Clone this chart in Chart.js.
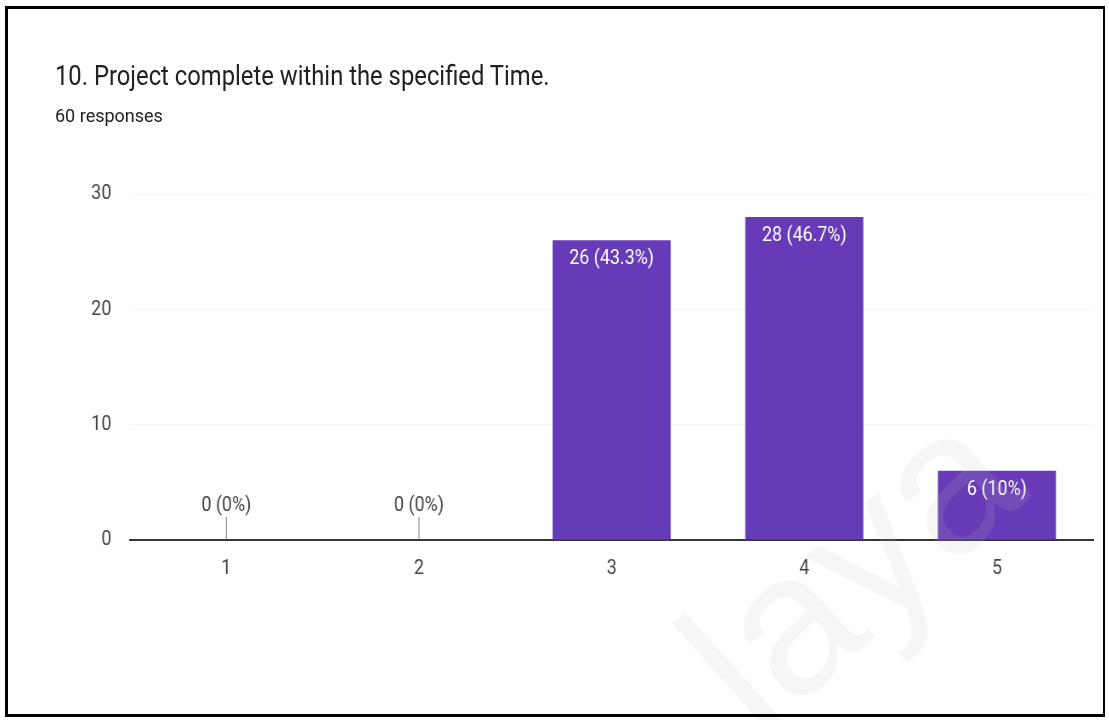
<!DOCTYPE html>
<html>
<head>
<meta charset="utf-8">
<script src="https://cdn.jsdelivr.net/npm/chart.js@4.4.1/dist/chart.umd.min.js"></script>
<style>
  html, body { margin: 0; padding: 0; background: #fff; }
  body { width: 1109px; height: 720px; position: relative; overflow: hidden; }
  #frame {
    position: absolute; left: 5px; top: 6px; width: 1100px; height: 711px;
    border-left: 3px solid #000; border-top: 3px solid #000;
    border-right: 2px solid #000; border-bottom: 3px solid #000;
    box-sizing: border-box; pointer-events: none; z-index: 5;
  }
  #squeeze {
    position: absolute; left: 0; top: 0; height: 720px;
    transform-origin: 0 0;
  }
  #title {
    position: absolute; left: 0; top: 59px;
    font-family: Roboto, sans-serif; font-size: 28px; color: #202124;
    white-space: nowrap;
  }
  #subtitle {
    position: absolute; left: 55px; top: 105px;
    font-family: Roboto, sans-serif; font-size: 18px; color: #202124;
    white-space: nowrap;
  }
  #chart { position: absolute; left: 0; top: 0; }
  #mark {
    position: absolute; left: 790px; top: 545px;
    font-family: "Liberation Sans", sans-serif; font-size: 200px;
    color: rgba(190, 190, 190, 0.14); white-space: nowrap;
    transform: rotate(-42deg); transform-origin: 0 100%;
    z-index: 4; pointer-events: none;
  }
</style>
</head>
<body>
<div id="squeeze">
  <div id="title">10. Project complete within the specified Time.</div>
  <canvas id="chart"></canvas>
</div>
<div id="subtitle">60 responses</div>
<div id="mark">laya</div>
<div id="frame"></div>
<script>
// text in this chart is drawn narrow, so the whole block is squeezed on x
const SX = 0.85;

const categories = ['1', '2', '3', '4', '5'];
const counts = [0, 0, 26, 28, 6];
const yTicks = [0, 10, 20, 30];
const totalResponses = 60;

const W = Math.round(1109 / SX);
const H = 720;

const squeeze = document.getElementById('squeeze');
squeeze.style.width = W + 'px';
squeeze.style.transform = `scaleX(${SX})`;
document.getElementById('title').style.left = (55 / SX) + 'px';

const canvas = document.getElementById('chart');
canvas.width = W;
canvas.height = H;
canvas.style.width = W + 'px';
canvas.style.height = H + 'px';

function pct(v) {
  const p = (v / totalResponses) * 100;
  const s = p.toFixed(1);
  return (s.endsWith('.0') ? s.slice(0, -2) : s) + '%';
}

// value labels: white inside the bar, or above a little stem when empty
const barLabels = {
  id: 'barLabels',
  afterDatasetsDraw(chart) {
    const ctx = chart.ctx;
    const meta = chart.getDatasetMeta(0);
    ctx.save();
    ctx.font = '21px Roboto, sans-serif';
    ctx.textAlign = 'center';
    ctx.textBaseline = 'middle';
    meta.data.forEach((bar, i) => {
      const v = counts[i];
      const text = `${v} (${pct(v)})`;
      if (v > 0) {
        ctx.fillStyle = '#ffffff';
        ctx.fillText(text, bar.x, bar.y + 19);
      } else {
        ctx.strokeStyle = '#777';
        ctx.lineWidth = 1;
        ctx.beginPath();
        ctx.moveTo(bar.x, bar.base - 23);
        ctx.lineTo(bar.x, bar.base);
        ctx.stroke();
        ctx.fillStyle = '#444';
        ctx.fillText(text, bar.x, bar.base - 34);
      }
    });
    ctx.restore();
  }
};

const xAxisH = 40;

new Chart(canvas, {
  type: 'bar',
  data: {
    labels: categories,
    datasets: [{
      data: counts,
      backgroundColor: '#673ab7',
      barPercentage: 0.613,
      categoryPercentage: 1.0
    }]
  },
  options: {
    responsive: false,
    animation: false,
    events: [],
    layout: {
      padding: { left: 0, right: 16 / SX, top: 194, bottom: 720 - 540 - xAxisH }
    },
    plugins: {
      legend: { display: false },
      tooltip: { enabled: false }
    },
    scales: {
      x: {
        grid: { display: false },
        border: { display: true, color: '#333', width: 2 },
        ticks: {
          color: '#444',
          font: { family: 'Roboto, sans-serif', size: 21 },
          padding: 8
        },
        afterFit(scale) { scale.height = xAxisH; }
      },
      y: {
        min: 0,
        max: 30,
        afterBuildTicks(scale) { scale.ticks = yTicks.map(v => ({ value: v })); },
        grid: { color: '#f6f6f6', drawTicks: false },
        border: { display: false },
        ticks: {
          color: '#444',
          font: { family: 'Roboto, sans-serif', size: 21 },
          padding: 22
        },
        afterFit(scale) { scale.width = 130 / SX; }
      }
    }
  },
  plugins: [barLabels]
});
</script>
</body>
</html>
